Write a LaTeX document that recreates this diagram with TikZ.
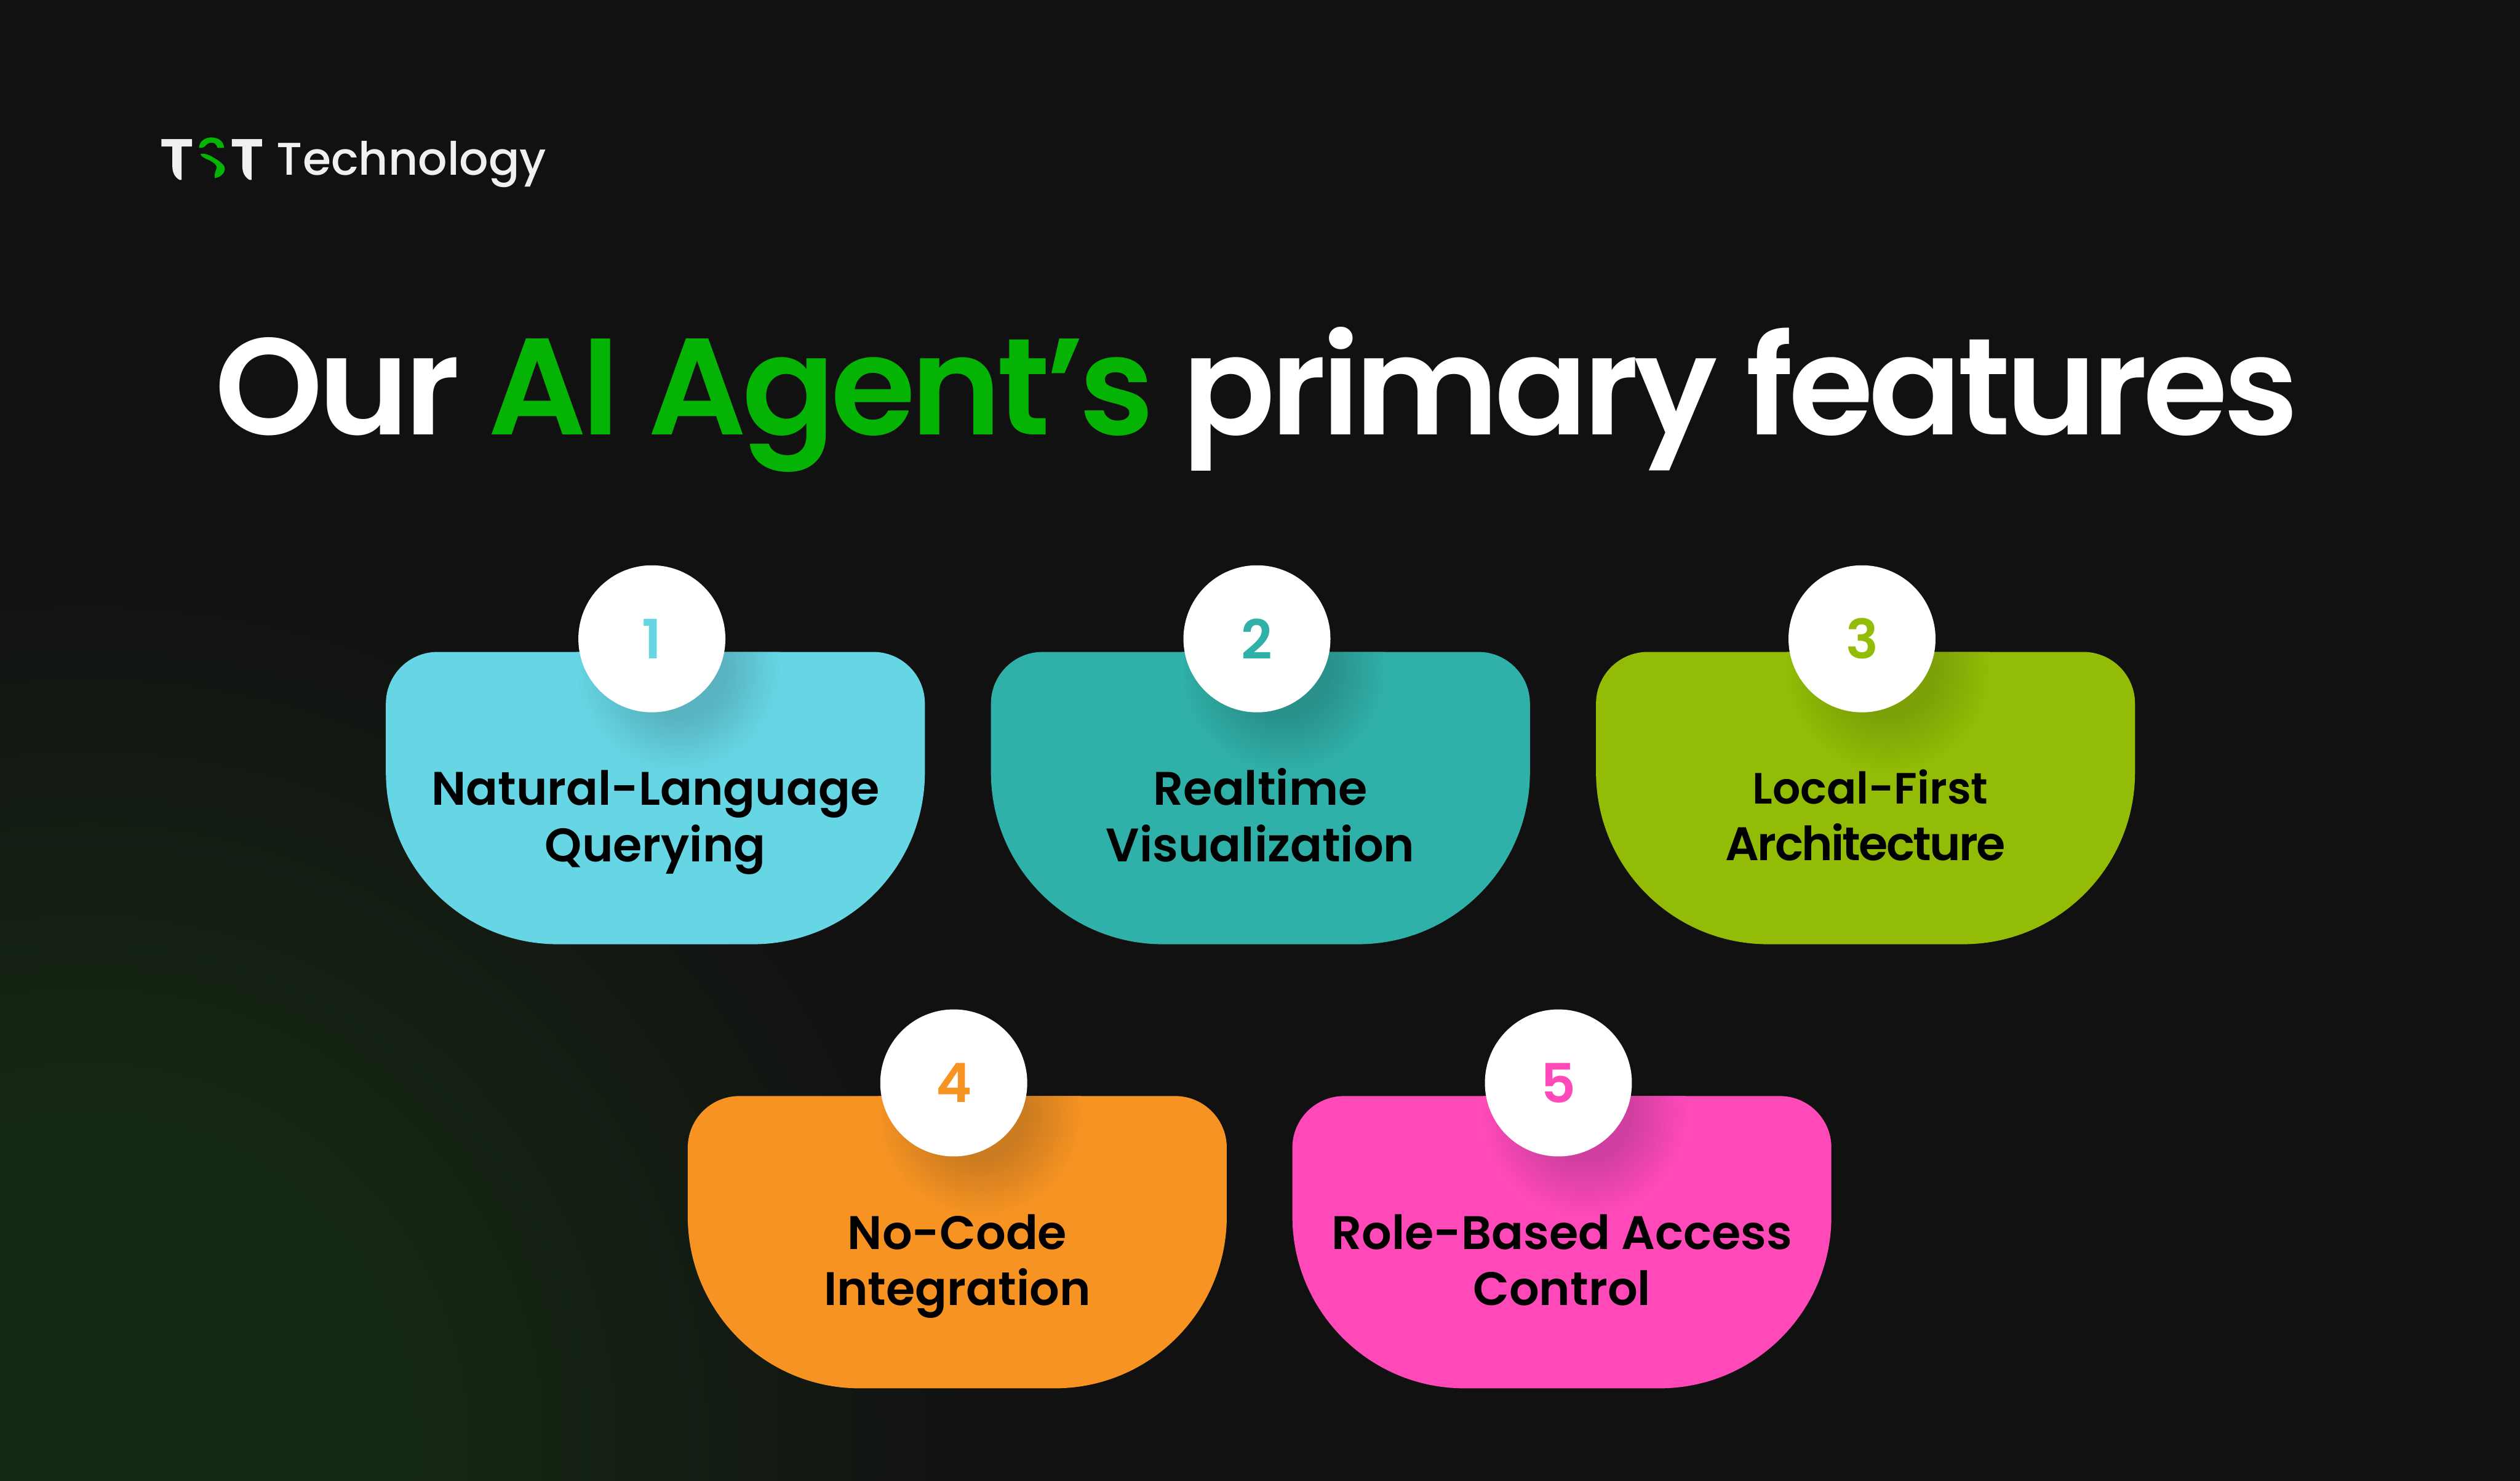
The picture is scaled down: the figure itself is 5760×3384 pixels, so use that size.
\documentclass[tikz,border=0pt]{standalone}
\usepackage{fontspec}
\setmainfont{Poppins}
\newfontfamily\popsb{Poppins SemiBold}
\newfontfamily\popmd{Poppins Medium}
\newfontfamily\poptitle{Poppins SemiBold}[LetterSpace=-3.3]
\newfontfamily\poptight{Poppins SemiBold}[LetterSpace=-3.6]
\definecolor{bgc}{HTML}{111111}
\definecolor{glowc}{HTML}{162914}
\definecolor{tgreen}{HTML}{05B305}
\definecolor{logow}{HTML}{F0F0F0}
\definecolor{ca}{HTML}{66D6E4}\definecolor{cad}{HTML}{58B2BF}
\definecolor{cb}{HTML}{2FB0A8}\definecolor{cbd}{HTML}{29908A}
\definecolor{cc}{HTML}{92BC05}\definecolor{ccd}{HTML}{7CA008}
\definecolor{cd}{HTML}{F69322}\definecolor{cdd}{HTML}{CB7B20}
\definecolor{ce}{HTML}{FF49B9}\definecolor{ced}{HTML}{CF3F9F}
\pgfdeclareradialshading{glowsh}{\pgfpointorigin}{color(0bp)=(glowc); color(9bp)=(glowc); color(25bp)=(bgc); color(50bp)=(bgc)}
\pgfdeclareradialshading{sha}{\pgfpointorigin}{color(0bp)=(cad); color(11bp)=(cad); color(25bp)=(ca); color(50bp)=(ca)}
\pgfdeclareradialshading{shb}{\pgfpointorigin}{color(0bp)=(cbd); color(11bp)=(cbd); color(25bp)=(cb); color(50bp)=(cb)}
\pgfdeclareradialshading{shc}{\pgfpointorigin}{color(0bp)=(ccd); color(11bp)=(ccd); color(25bp)=(cc); color(50bp)=(cc)}
\pgfdeclareradialshading{shd}{\pgfpointorigin}{color(0bp)=(cdd); color(11bp)=(cdd); color(25bp)=(cd); color(50bp)=(cd)}
\pgfdeclareradialshading{she}{\pgfpointorigin}{color(0bp)=(ced); color(11bp)=(ced); color(25bp)=(ce); color(50bp)=(ce)}
\tikzset{
  cardlabel/.style={text=black,align=center,inner sep=0pt,anchor=base,font=\popsb\fontsize{26.9}{32.25}\selectfont},
  numlabel/.style={inner sep=0pt,font=\popsb\fontsize{31}{32}\selectfont},
  badge/.style={circle,fill=white,inner sep=0pt,minimum size=84pt},
}
% #1 name, #2 left, #3 top, #4 colour, #5 shading, #6 number, #7 text, #8 baseline
\newcommand{\featcard}[8]{%
  \begin{scope}[shift={(#2,#3)}]
    \begin{scope}
      \clip (0,118) arc[start angle=180,end angle=270,radius=118] -- (1114,0)
        arc[start angle=270,end angle=360,radius=118] -- (1232,275)
        arc[start angle=0,end angle=90,radius=393] -- (393,668)
        arc[start angle=90,end angle=180,radius=393] -- cycle;
      \fill[#4] (-10,-10) rectangle (1242,680);
      \shade[shading=#5] (668,40) circle[radius=235];
    \end{scope}
    \node[badge] (n#1) at (608,-30) {};
    \node[numlabel,text=#4,anchor=center] (t#1) at (608,-30) {#6};
    \node[cardlabel] (l#1) at (616,#8) {#7};
  \end{scope}}
\begin{document}
\begin{tikzpicture}[x=0.25pt,y=-0.25pt]
\useasboundingbox (0,0) rectangle (5760,3384);
\fill[bgc] (-10,-10) rectangle (5770,3394);
\begin{scope}
  \clip (-10,-10) rectangle (5770,3394);
  \shade[shading=glowsh] (200,3300) circle[radius=2050];
\end{scope}
% logo
\fill[logow] (369,318) -- (439,318) -- (439,335) -- (415,335) -- (415,411) -- (410,411)
  .. controls (400,405) and (394,395) .. (394,380) -- (394,335) -- (369,335) -- cycle;
\fill[logow] (530,318) -- (599,318) -- (599,335) -- (575,335) -- (575,411) -- (570,411)
  .. controls (560,405) and (554,395) .. (554,380) -- (554,335) -- (530,335) -- cycle;
\fill[tgreen] (455,338) .. controls (455,324) and (468,314) .. (483,314)
  .. controls (500,314) and (512,324) .. (512,338) -- (497,338)
  .. controls (494,328) and (490,326) .. (483,326) .. controls (476,326) and (472,330) .. (468,335)
  .. controls (465,338) and (460,338) .. (455,338) -- cycle;
\fill[tgreen] (458,352) .. controls (470,350) and (478,354) .. (488,360)
  .. controls (505,370) and (514,378) .. (514,385) .. controls (514,395) and (505,405) .. (491,407)
  .. controls (490,398) and (492,392) .. (495,385) .. controls (497,375) and (485,370) .. (478,366)
  .. controls (468,362) and (460,358) .. (458,352) -- cycle;
\node[anchor=base west,inner sep=0pt,text=logow,font=\popmd\fontsize{26.2}{30}\selectfont] (brand) at (632,400) {Technology};
% title
\node[anchor=base west,inner sep=0pt,text=white,font=\poptitle\fontsize{78.5}{80}\selectfont] (title) at (490,993)
  {Our \textcolor{tgreen}{AI Agent’s} primary features};
\featcard{a}{882}{1490}{ca}{sha}{1}{Natural-Language\\Querying}{479}
\featcard{b}{2265}{1490}{cb}{shb}{2}{Realtime\\Visualization}{479}
\featcard{c}{3648}{1490}{cc}{shc}{3}{\fontsize{25}{29.25}\selectfont\hspace*{5.5pt}Local-First\\\poptight Architecture}{476}
\featcard{d}{1572}{2505}{cd}{shd}{4}{No-Code\\Integration}{479}
\featcard{e}{2954}{2505}{ce}{she}{5}{Role-Based Access\\Control}{479}
\end{tikzpicture}
\end{document}
